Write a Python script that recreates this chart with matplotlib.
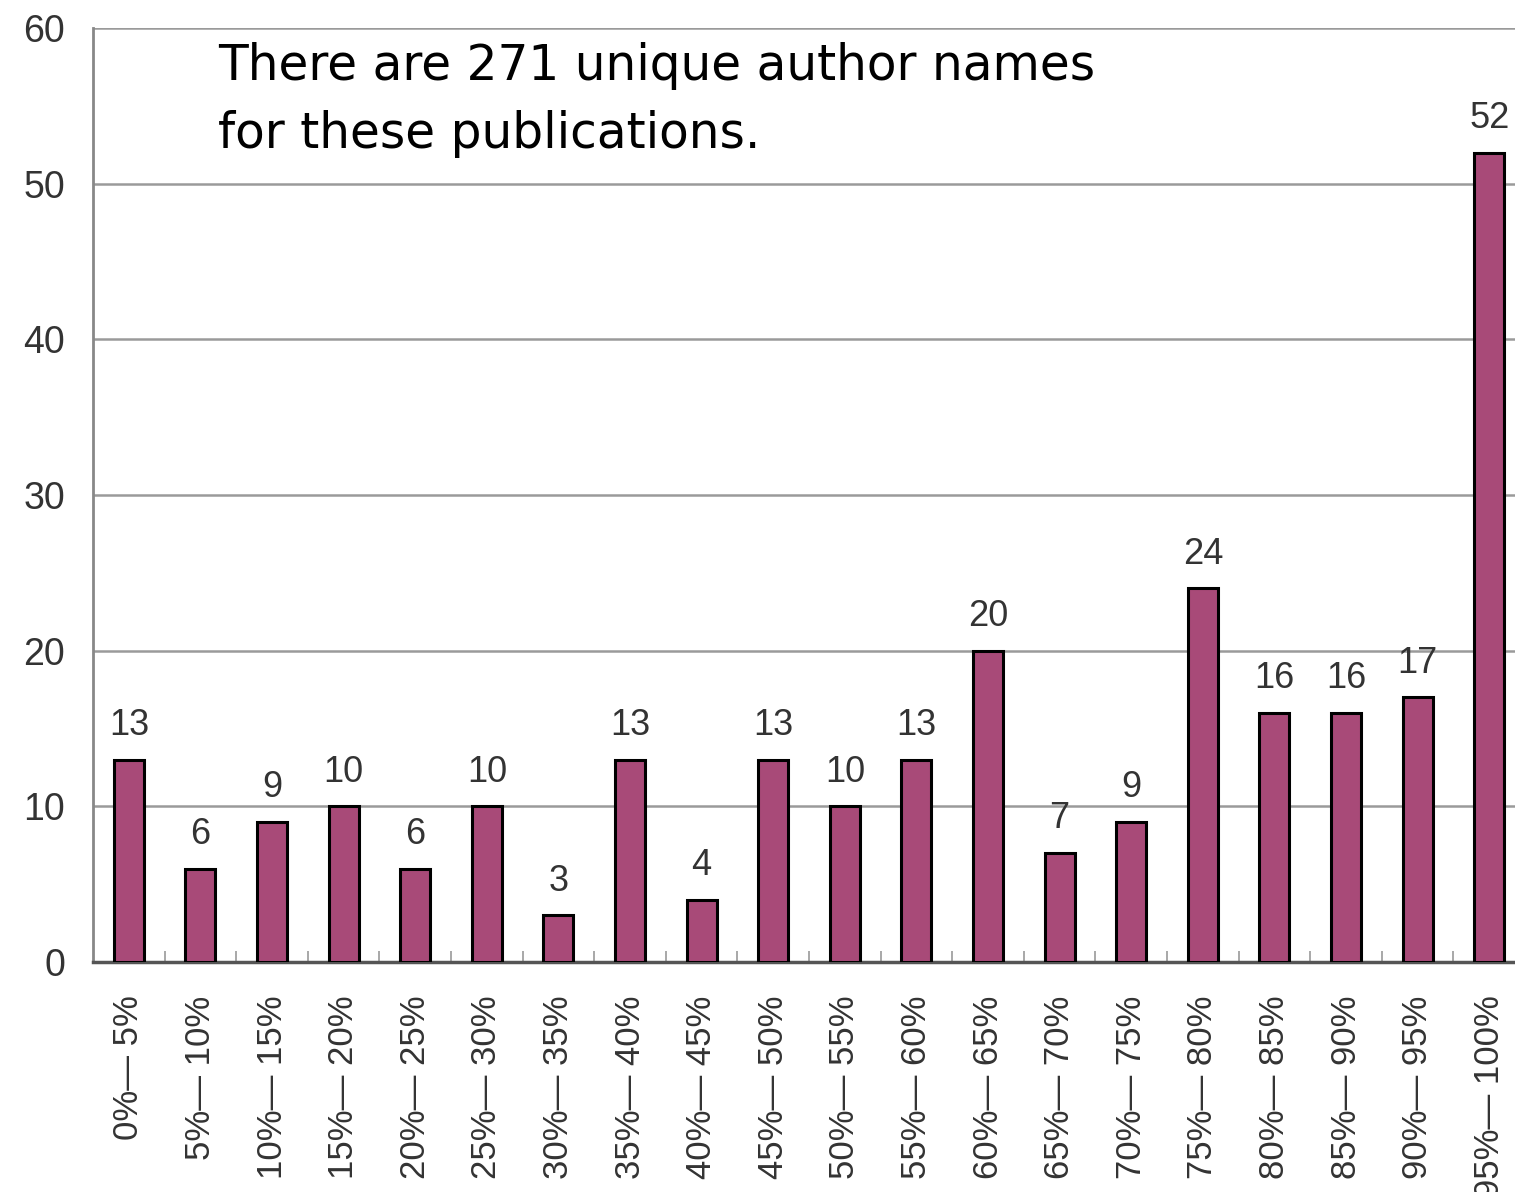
import matplotlib
matplotlib.use("Agg")
import matplotlib.pyplot as plt
from matplotlib.ticker import FixedLocator

categories = ["0%\u2014 5%", "5%\u2014 10%", "10%\u2014 15%", "15%\u2014 20%", "20%\u2014 25%",
              "25%\u2014 30%", "30%\u2014 35%", "35%\u2014 40%", "40%\u2014 45%", "45%\u2014 50%",
              "50%\u2014 55%", "55%\u2014 60%", "60%\u2014 65%", "65%\u2014 70%", "70%\u2014 75%",
              "75%\u2014 80%", "80%\u2014 85%", "85%\u2014 90%", "90%\u2014 95%", "95%\u2014 100%"]
values = [13, 6, 9, 10, 6, 10, 3, 13, 4, 13, 10, 13, 20, 7, 9, 24, 16, 16, 17, 52]
y_ticks = [0, 10, 20, 30, 40, 50, 60]
note = "There are 271 unique author names\nfor these publications."

fig = plt.figure(figsize=(15.15, 11.92), dpi=100)
ax = fig.add_axes([0.0614, 0.193, 0.9386, 0.7835])

x = list(range(len(values)))
ax.bar(x, values, width=0.42, color="#a84a78", edgecolor="black", linewidth=2.2, zorder=3)

ax.set_ylim(0, 60)
ax.set_xlim(-0.5, 19.36)
ax.set_yticks(y_ticks)
ax.yaxis.grid(True, color="#9a9a9a", linewidth=1.8, zorder=0)
ax.tick_params(axis="y", length=0, pad=20, labelsize=27, labelcolor="#333333")

ax.set_xticks(x)
ax.set_xticklabels(categories, rotation=90, fontsize=25, color="#333333",
                   family="Liberation Sans")
ax.tick_params(axis="x", length=0, pad=24)
ax.xaxis.set_minor_locator(FixedLocator([i + 0.5 for i in range(len(values))]))
ax.tick_params(axis="x", which="minor", direction="in", length=8, width=1.2, color="#999999")

for lbl in ax.get_yticklabels():
    lbl.set_family("Liberation Sans")

for s in ["top", "right"]:
    ax.spines[s].set_visible(False)
ax.spines["left"].set_color("#888888")
ax.spines["left"].set_linewidth(2)
ax.spines["bottom"].set_color("#555555")
ax.spines["bottom"].set_linewidth(2.5)

for xi, v in zip(x, values):
    ax.annotate(str(v), (xi, v), xytext=(0, 12), textcoords="offset points",
                ha="center", va="bottom", fontsize=26, color="#333333",
                family="Liberation Sans")

fig.text(218 / 1515, 1 - 100 / 1192, note, fontsize=35, color="black",
         ha="left", va="center", linespacing=1.5, family="DejaVu Sans")

fig.savefig("out.png", dpi=100, facecolor="white")
